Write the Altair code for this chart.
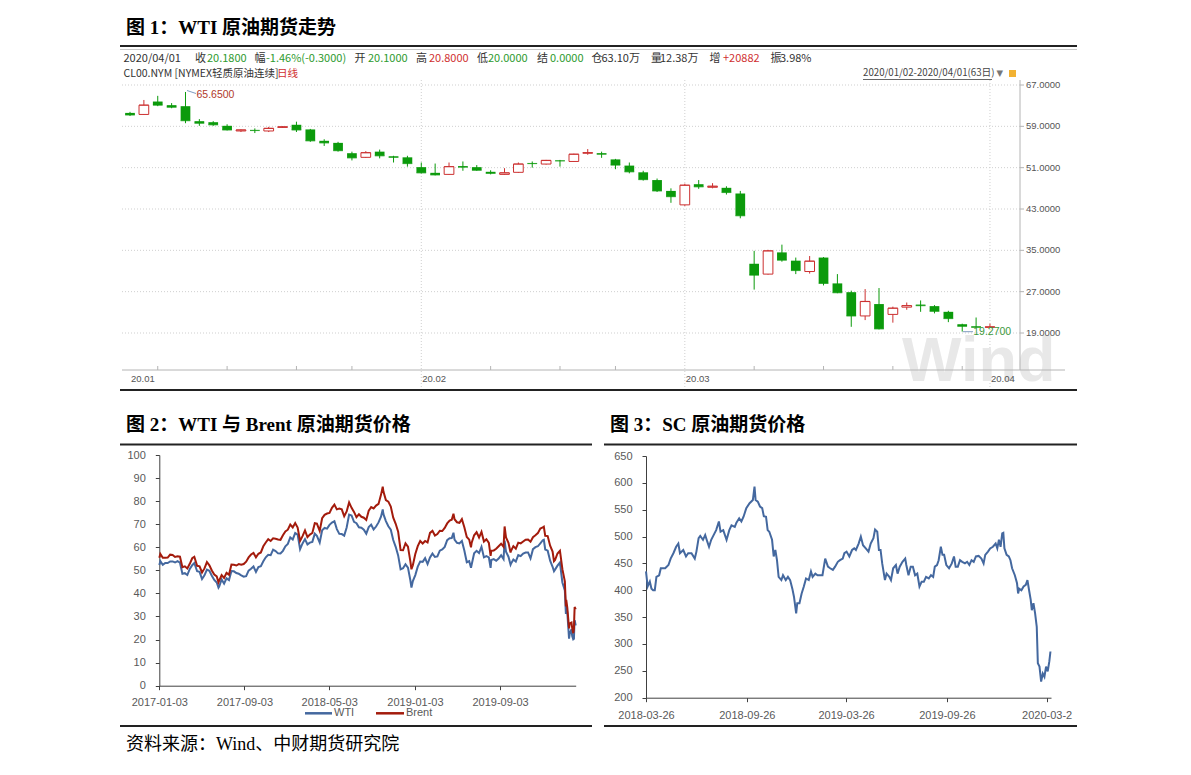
import altair as alt
import pandas as pd

OFF = 8
W, H = 1175, 759


def P(v):
    return v - OFF


SANS = "Liberation Sans"
WFONT = "Noto Sans CJK SC"
TFONT = "Liberation Serif, Noto Sans CJK SC"

GREEN = "#0B9A0B"
RED = "#CC3030"
DARK = "#333333"
GTXT = "#2E9A2E"
RTXT = "#D03030"
GRID = "#CFCFCF"
AXL = "#B4B4B4"
BLUE = "#44689F"
BRENT = "#A31B0C"
AXIS_TXT = "#595959"
AXIS_LN = "#404040"

# ---------------- Figure 1: WTI daily candles (CL00.NYM) ----------------
k_dates = [
    "2020-01-02", "2020-01-03", "2020-01-06", "2020-01-07", "2020-01-08", "2020-01-09", "2020-01-10",
    "2020-01-13", "2020-01-14", "2020-01-15", "2020-01-16", "2020-01-17", "2020-01-21", "2020-01-22",
    "2020-01-23", "2020-01-24", "2020-01-27", "2020-01-28", "2020-01-29", "2020-01-30", "2020-01-31",
    "2020-02-03", "2020-02-04", "2020-02-05", "2020-02-06", "2020-02-07", "2020-02-10", "2020-02-11",
    "2020-02-12", "2020-02-13", "2020-02-14", "2020-02-18", "2020-02-19", "2020-02-20", "2020-02-21",
    "2020-02-24", "2020-02-25", "2020-02-26", "2020-02-27", "2020-02-28",
    "2020-03-02", "2020-03-03", "2020-03-04", "2020-03-05", "2020-03-06", "2020-03-09", "2020-03-10",
    "2020-03-11", "2020-03-12", "2020-03-13", "2020-03-16", "2020-03-17", "2020-03-18", "2020-03-19",
    "2020-03-20", "2020-03-23", "2020-03-24", "2020-03-25", "2020-03-26", "2020-03-27", "2020-03-30",
    "2020-03-31", "2020-04-01",
]
k_open = [61.6, 61.3, 63.8, 63.1, 62.9, 60.0, 59.8, 59.1, 58.1, 58.3, 58.1, 58.8, 59.3, 58.4, 56.2, 55.8, 53.8, 53.0, 54.1, 53.2, 53.0,
          51.1, 50.0, 49.7, 51.3, 51.1, 50.2, 49.7, 50.1, 51.9, 51.7, 52.4, 52.2, 53.8, 53.8, 52.6, 51.4, 50.1, 48.6, 46.5,
          43.8, 47.8, 47.2, 47.1, 46.0, 32.4, 30.4, 34.6, 33.0, 30.9, 33.6, 28.6, 26.9, 22.3, 24.6, 22.6, 24.0, 24.5, 24.2, 23.1, 20.7, 20.3, 20.10]
k_high = [61.8, 64.1, 64.9, 63.5, 65.65, 60.4, 60.0, 59.4, 58.4, 58.6, 58.9, 59.0, 59.9, 58.5, 56.5, 56.0, 54.1, 54.2, 54.5, 53.3, 53.3,
          52.0, 51.8, 52.0, 52.2, 51.5, 50.5, 50.9, 52.0, 52.2, 52.5, 52.5, 53.7, 54.6, 54.1, 52.7, 52.0, 50.4, 48.9, 47.0,
          47.9, 48.6, 48.0, 47.4, 46.5, 34.9, 35.1, 36.1, 33.6, 33.9, 33.7, 30.4, 27.2, 27.5, 27.7, 24.1, 24.9, 25.3, 24.4, 23.3, 20.8, 22.0, 20.80]
k_low = [61.0, 61.2, 62.9, 62.5, 59.6, 59.1, 59.1, 58.2, 57.9, 57.7, 57.9, 58.7, 57.9, 56.0, 55.2, 54.1, 52.4, 52.9, 52.8, 52.0, 51.2,
         49.9, 49.5, 49.6, 50.4, 50.4, 49.7, 49.6, 50.0, 51.0, 51.6, 51.2, 52.1, 53.5, 52.9, 50.7, 49.9, 48.5, 46.3, 44.2,
         43.6, 46.9, 47.0, 45.8, 41.2, 27.4, 30.3, 32.8, 30.4, 30.5, 28.2, 26.7, 20.2, 21.5, 19.7, 21.0, 23.5, 23.1, 22.8, 21.1, 19.27, 19.9, 20.00]
k_close = [61.2, 63.1, 63.1, 62.7, 60.1, 59.6, 59.3, 58.3, 58.3, 58.2, 58.6, 58.9, 58.3, 56.2, 55.8, 54.3, 52.9, 53.9, 53.3, 53.0, 51.8,
           50.0, 49.6, 51.2, 51.1, 50.5, 49.9, 50.0, 51.7, 51.8, 52.4, 52.3, 53.6, 53.9, 53.6, 51.5, 50.2, 48.7, 46.5, 45.4,
           47.6, 47.3, 47.4, 46.2, 41.7, 30.2, 34.9, 33.1, 31.1, 32.9, 28.6, 26.8, 22.3, 25.1, 19.8, 23.8, 24.3, 24.3, 23.2, 21.8, 20.3, 20.1, 20.18]
k_yticks = [67, 59, 51, 43, 35, 27, 19]
k_month_first = ["2020-01-02", "2020-02-03", "2020-03-02", "2020-04-01"]
k_month_labels = ["20.01", "20.02", "20.03", "20.04"]
k_grid_days = ["2020-02-03", "2020-03-02", "2020-04-01"]
k_week_ticks = ["2020-01-06", "2020-01-13", "2020-01-21", "2020-01-27", "2020-02-10", "2020-02-18",
                "2020-02-24", "2020-03-09", "2020-03-16", "2020-03-23", "2020-03-30"]
k_max_day, k_max_val = "2020-01-08", 65.65
k_min_day, k_min_val = "2020-03-30", 19.27

# ---------------- Figure 2: WTI & Brent ----------------
wb_dates = [
    # 2017
    "2017-01-03", "2017-01-06", "2017-01-13", "2017-01-20", "2017-01-27",
    "2017-02-03", "2017-02-10", "2017-02-17", "2017-02-24",
    "2017-03-03", "2017-03-10", "2017-03-17", "2017-03-24", "2017-03-31",
    "2017-04-07", "2017-04-13", "2017-04-21", "2017-04-28",
    "2017-05-05", "2017-05-12", "2017-05-19", "2017-05-26",
    "2017-06-02", "2017-06-09", "2017-06-16", "2017-06-21", "2017-06-23", "2017-06-30",
    "2017-07-07", "2017-07-14", "2017-07-21", "2017-07-28",
    "2017-08-04", "2017-08-11", "2017-08-18", "2017-08-25",
    "2017-09-01", "2017-09-08", "2017-09-15", "2017-09-22", "2017-09-29",
    "2017-10-06", "2017-10-13", "2017-10-20", "2017-10-27",
    "2017-11-03", "2017-11-10", "2017-11-17", "2017-11-24",
    "2017-12-01", "2017-12-08", "2017-12-15", "2017-12-22", "2017-12-29",
    # 2018
    "2018-01-05", "2018-01-12", "2018-01-19", "2018-01-26",
    "2018-02-02", "2018-02-09", "2018-02-16", "2018-02-23",
    "2018-03-02", "2018-03-09", "2018-03-16", "2018-03-23", "2018-03-29",
    "2018-04-06", "2018-04-13", "2018-04-20", "2018-04-27",
    "2018-05-04", "2018-05-11", "2018-05-18", "2018-05-25",
    "2018-06-01", "2018-06-08", "2018-06-15", "2018-06-22", "2018-06-29",
    "2018-07-06", "2018-07-13", "2018-07-20", "2018-07-27",
    "2018-08-03", "2018-08-10", "2018-08-17", "2018-08-24", "2018-08-31",
    "2018-09-07", "2018-09-14", "2018-09-21", "2018-09-28",
    "2018-10-03", "2018-10-05", "2018-10-12", "2018-10-19", "2018-10-26",
    "2018-11-02", "2018-11-09", "2018-11-16", "2018-11-23", "2018-11-30",
    "2018-12-07", "2018-12-14", "2018-12-21", "2018-12-24", "2018-12-28",
    # 2019
    "2019-01-04", "2019-01-11", "2019-01-18", "2019-01-25",
    "2019-02-01", "2019-02-08", "2019-02-15", "2019-02-22",
    "2019-03-01", "2019-03-08", "2019-03-15", "2019-03-22", "2019-03-29",
    "2019-04-05", "2019-04-12", "2019-04-18", "2019-04-23", "2019-04-26",
    "2019-05-03", "2019-05-10", "2019-05-17", "2019-05-24", "2019-05-31",
    "2019-06-07", "2019-06-12", "2019-06-14", "2019-06-21", "2019-06-28",
    "2019-07-05", "2019-07-12", "2019-07-19", "2019-07-26",
    "2019-08-02", "2019-08-07", "2019-08-09", "2019-08-16", "2019-08-23", "2019-08-30",
    "2019-09-06", "2019-09-13", "2019-09-16", "2019-09-20", "2019-09-27",
    "2019-10-03", "2019-10-04", "2019-10-11", "2019-10-18", "2019-10-25",
    "2019-11-01", "2019-11-08", "2019-11-15", "2019-11-22", "2019-11-29",
    "2019-12-06", "2019-12-13", "2019-12-20", "2019-12-27",
    # 2020
    "2020-01-03", "2020-01-06", "2020-01-10", "2020-01-17", "2020-01-24", "2020-01-31",
    "2020-02-04", "2020-02-07", "2020-02-14", "2020-02-21", "2020-02-28",
    "2020-03-06", "2020-03-09", "2020-03-10", "2020-03-13", "2020-03-18", "2020-03-20",
    "2020-03-25", "2020-03-27", "2020-03-30",
    "2020-04-01", "2020-04-02", "2020-04-03", "2020-04-06",
]
wti = [
    52.33, 53.99, 52.37, 53.22, 53.17,
    53.83, 53.86, 53.40, 53.99,
    53.33, 48.49, 48.78, 47.97, 50.60,
    52.24, 53.18, 49.62, 49.33,
    46.22, 47.84, 50.33, 49.80,
    47.66, 45.83, 44.74, 42.53, 43.01, 46.04,
    44.23, 46.54, 45.77, 49.71,
    49.58, 48.82, 48.51, 47.87,
    47.29, 47.48, 49.89, 50.66, 51.67,
    49.29, 51.45, 51.84, 53.90,
    55.64, 56.74, 56.55, 58.95,
    58.36, 57.36, 57.30, 58.47, 60.42,
    61.44, 64.30, 63.37, 66.14,
    65.45, 59.20, 61.68, 63.55,
    61.25, 62.04, 62.34, 65.88, 64.94,
    62.06, 67.39, 68.38, 68.10,
    69.72, 70.70, 71.28, 67.88,
    65.81, 65.74, 65.06, 68.58, 74.15,
    73.80, 71.01, 70.46, 68.69,
    68.49, 67.63, 65.91, 68.72, 69.80,
    67.75, 68.99, 70.78, 73.25,
    76.41, 74.34, 71.34, 69.12, 67.59,
    63.14, 60.19, 56.46, 50.42, 50.93,
    52.61, 51.20, 45.59, 42.53, 45.33,
    47.96, 51.59, 53.80, 53.69,
    55.26, 52.72, 55.59, 57.26,
    55.80, 56.07, 58.52, 59.04, 60.14,
    63.08, 63.89, 64.00, 66.30, 63.30,
    61.94, 61.66, 62.76, 58.63, 53.50,
    53.99, 51.14, 52.51, 57.43, 58.47,
    57.51, 60.21, 55.63, 56.20,
    55.66, 51.09, 54.50, 54.87, 54.17, 55.10,
    56.52, 54.85, 62.90, 58.09, 55.91,
    52.45, 52.81, 54.70, 53.78, 56.66,
    56.20, 57.24, 57.72, 57.77, 55.17,
    59.20, 60.07, 60.44, 61.72,
    63.05, 63.27, 59.04, 58.54, 54.19, 51.56,
    49.61, 50.32, 52.05, 53.38, 44.76,
    41.28, 31.13, 34.36, 31.73, 20.37, 22.43,
    24.49, 21.51, 20.09,
    20.31, 25.32, 28.34, 26.08,
]
brent = [
    55.47, 57.10, 55.45, 55.49, 55.52,
    56.81, 56.70, 55.81, 56.08,
    55.90, 51.37, 51.76, 50.80, 52.83,
    55.24, 55.89, 51.96, 51.73,
    49.10, 50.84, 53.61, 52.15,
    49.95, 48.15, 47.37, 44.82, 45.54, 47.92,
    46.71, 48.91, 48.06, 52.52,
    52.42, 52.10, 52.72, 52.41,
    52.75, 53.78, 55.62, 56.86, 57.54,
    55.62, 57.17, 57.75, 60.44,
    62.07, 63.52, 62.72, 63.86,
    63.73, 63.40, 63.23, 65.25, 66.87,
    67.62, 69.87, 68.61, 70.52,
    68.58, 62.79, 64.84, 67.31,
    64.37, 65.49, 66.21, 70.45, 70.27,
    67.11, 72.58, 74.06, 74.64,
    74.87, 77.12, 78.51, 76.44,
    76.79, 76.46, 73.44, 75.55, 79.44,
    77.11, 75.33, 73.07, 74.29,
    73.21, 72.81, 71.83, 75.82, 77.42,
    76.83, 78.09, 78.80, 82.72,
    86.29, 84.16, 80.43, 79.78, 77.62,
    72.83, 70.18, 66.76, 58.80, 58.71,
    61.67, 60.28, 53.82, 50.47, 52.20,
    57.06, 60.48, 62.70, 61.64,
    62.75, 62.10, 66.25, 67.12,
    65.07, 65.74, 67.16, 67.03, 68.39,
    70.34, 71.55, 71.97, 74.51, 72.15,
    70.85, 70.62, 72.21, 68.69, 64.49,
    63.29, 59.97, 62.01, 65.20, 66.55,
    64.23, 66.72, 62.47, 63.46,
    61.89, 56.23, 58.53, 58.64, 59.34, 60.43,
    61.54, 60.22, 69.02, 64.28, 61.91,
    57.71, 58.37, 60.51, 59.42, 62.02,
    61.69, 62.51, 63.30, 63.39, 62.43,
    64.39, 65.22, 66.14, 68.16,
    68.60, 68.91, 64.98, 64.85, 60.69, 58.16,
    53.96, 54.47, 57.32, 58.50, 50.52,
    45.27, 34.36, 37.22, 33.85, 24.88, 26.98,
    27.39, 24.93, 22.76,
    24.74, 29.94, 34.11, 33.05,
]
wb_yticks = [0, 10, 20, 30, 40, 50, 60, 70, 80, 90, 100]

# ---------------- Figure 3: SC crude ----------------
sc_dates = [
    "2018-03-26", "2018-03-29", "2018-04-02", "2018-04-05", "2018-04-08", "2018-04-11", "2018-04-14",
    "2018-04-19", "2018-04-22", "2018-04-30", "2018-05-06", "2018-05-10", "2018-05-15", "2018-05-20",
    "2018-05-24", "2018-05-27", "2018-06-02", "2018-06-07", "2018-06-11", "2018-06-17", "2018-06-23",
    "2018-06-26", "2018-06-30", "2018-07-03", "2018-07-08", "2018-07-12", "2018-07-16", "2018-07-19",
    "2018-07-23", "2018-07-29", "2018-08-01", "2018-08-06", "2018-08-09", "2018-08-14", "2018-08-20",
    "2018-08-25", "2018-08-29", "2018-09-04", "2018-09-07", "2018-09-12", "2018-09-16", "2018-09-20",
    "2018-09-25", "2018-10-01", "2018-10-07", "2018-10-10", "2018-10-12", "2018-10-16", "2018-10-20",
    "2018-10-24", "2018-10-27", "2018-10-31", "2018-11-03", "2018-11-06", "2018-11-11", "2018-11-14",
    "2018-11-17", "2018-11-20", "2018-11-23", "2018-11-28", "2018-12-01", "2018-12-06", "2018-12-10",
    "2018-12-14", "2018-12-18", "2018-12-21", "2018-12-25", "2018-12-27", "2018-12-31",
    "2019-01-04", "2019-01-08", "2019-01-12", "2019-01-17", "2019-01-21", "2019-01-24", "2019-01-29",
    "2019-02-02", "2019-02-07", "2019-02-11", "2019-02-16", "2019-02-21", "2019-02-25", "2019-03-02",
    "2019-03-06", "2019-03-11", "2019-03-15", "2019-03-20", "2019-03-23", "2019-03-27", "2019-04-01",
    "2019-04-06", "2019-04-10", "2019-04-13", "2019-04-18", "2019-04-22", "2019-04-26", "2019-05-01",
    "2019-05-06", "2019-05-10", "2019-05-15", "2019-05-18", "2019-05-22", "2019-05-25", "2019-05-28",
    "2019-05-31", "2019-06-05", "2019-06-08", "2019-06-13", "2019-06-16", "2019-06-20", "2019-06-25",
    "2019-06-28", "2019-07-02", "2019-07-07", "2019-07-12", "2019-07-14", "2019-07-18", "2019-07-22",
    "2019-07-26", "2019-07-30", "2019-08-03", "2019-08-07", "2019-08-11", "2019-08-15", "2019-08-19",
    "2019-08-24", "2019-08-28", "2019-09-01", "2019-09-04", "2019-09-08", "2019-09-11", "2019-09-15",
    "2019-09-18", "2019-09-21", "2019-09-25", "2019-09-30", "2019-10-05", "2019-10-09", "2019-10-12",
    "2019-10-16", "2019-10-20", "2019-10-24", "2019-10-29", "2019-11-02", "2019-11-06", "2019-11-10",
    "2019-11-14", "2019-11-18", "2019-11-23", "2019-11-28", "2019-12-02", "2019-12-05", "2019-12-10",
    "2019-12-14", "2019-12-19", "2019-12-24", "2019-12-27", "2019-12-30",
    "2020-01-02", "2020-01-05", "2020-01-07", "2020-01-09", "2020-01-13", "2020-01-17", "2020-01-20",
    "2020-01-23", "2020-01-28", "2020-02-01", "2020-02-03", "2020-02-05", "2020-02-09", "2020-02-13",
    "2020-02-17", "2020-02-20", "2020-02-23", "2020-02-26", "2020-02-28", "2020-03-02", "2020-03-05",
    "2020-03-08", "2020-03-10", "2020-03-13", "2020-03-16", "2020-03-19", "2020-03-22", "2020-03-25",
    "2020-03-28", "2020-03-31", "2020-04-02",
]
sc_vals = [
    435, 407, 416, 403, 400, 400, 425,
    428, 441, 441, 447, 459, 469, 481,
    487, 469, 475, 463, 469, 469, 459,
    472, 497, 501, 494, 503, 490, 481,
    494, 506, 512, 528, 509, 512, 494,
    512, 521, 518, 526, 534, 528, 537,
    553, 562, 568, 593, 568, 565, 556,
    553, 538, 537, 512, 509, 494, 463,
    475, 456, 425, 419, 428, 419, 425,
    419, 403, 388, 357, 376, 376,
    394, 407, 422, 419, 435, 425, 431,
    428, 428, 428, 459, 444, 441, 438,
    444, 453, 456, 459, 469, 472, 463,
    475, 478, 475, 487, 500, 484, 478,
    472, 487, 497, 513, 509, 475, 475,
    450, 419, 431, 425, 419, 441, 447,
    431, 444, 453, 459, 447, 428, 444,
    444, 428, 431, 407, 416, 416, 425,
    422, 428, 425, 444, 447, 456, 481,
    466, 466, 447, 441, 450, 463, 444,
    444, 456, 453, 450, 453, 447, 456,
    453, 463, 464, 459, 450, 466, 472,
    478, 481, 487, 478, 494,
    481, 506, 507, 478, 466, 463, 456,
    441, 428, 413, 394, 403, 400, 407,
    410, 419, 400, 382, 363, 376, 357,
    332, 264, 258, 230, 245, 239, 258,
    249, 268, 286,
]
sc_yticks = [200, 250, 300, 350, 400, 450, 500, 550, 600, 650]

ONE = pd.DataFrame({"k": [0]})


def DT(y, m, d):
    return alt.DateTime(year=y, month=m, date=d, utc=True)


def text_at(s, x, y, size, color="#000000", font=WFONT, weight="normal", align="left"):
    return alt.Chart(ONE).mark_text(
        text=s, fontSize=size, color=color, font=font, fontWeight=weight,
        align=align, baseline="middle",
    ).encode(x=alt.value(P(x)), y=alt.value(P(y)))


def hline(x1, x2, y, color, width=1.0, dash=None):
    kw = dict(color=color, strokeWidth=width)
    if dash:
        kw["strokeDash"] = dash
    return alt.Chart(ONE).mark_rule(**kw).encode(
        x=alt.value(P(x1)), x2=alt.value(P(x2)), y=alt.value(P(y)))


def vline(x, y1, y2, color, width=1.0, dash=None):
    kw = dict(color=color, strokeWidth=width)
    if dash:
        kw["strokeDash"] = dash
    return alt.Chart(ONE).mark_rule(**kw).encode(
        x=alt.value(P(x)), y=alt.value(P(y1)), y2=alt.value(P(y2)))


# ---------------- page furniture ----------------
deco = [
    text_at("图 1：WTI 原油期货走势", 126, 27.5, 19, "#000000", TFONT, "bold"),
    hline(120, 1077, 46, "#222222", 2),
    hline(120, 1077, 49.5, "#C8C8C8", 1),
    hline(120, 1077, 390, "#222222", 2),
    text_at("图 2：WTI 与 Brent 原油期货价格", 126, 425, 19, "#000000", TFONT, "bold"),
    text_at("图 3：SC 原油期货价格", 610, 425, 19, "#000000", TFONT, "bold"),
    hline(120, 592, 444.5, "#222222", 2),
    hline(604, 1077, 444.5, "#222222", 2),
    hline(120, 592, 726, "#222222", 2),
    hline(604, 1077, 726, "#222222", 2),
    text_at("资料来源：Wind、中财期货研究院", 126, 745, 18, "#000000", TFONT),
]

# ---------------- Wind candle panel ----------------
kdf = pd.DataFrame({"date": k_dates, "open": k_open, "high": k_high, "low": k_low, "close": k_close})
k_up = kdf[kdf["close"] >= kdf["open"]]
k_dn = kdf[kdf["close"] < kdf["open"]]

kxs = alt.Scale(type="band", domain=k_dates, range=[P(123.07), P(996.9)], paddingInner=0.3, paddingOuter=0.15)
kys = alt.Scale(domain=[19, 67], range=[P(333), P(85)], nice=False, zero=False)


def kx():
    return alt.X("date:N", scale=kxs, axis=None)


def ky(f):
    return alt.Y(f"{f}:Q", scale=kys, axis=None)


ytick_df = pd.DataFrame({"v": k_yticks})
month_df = pd.DataFrame({"date": k_month_first, "lab": k_month_labels})
grid_v_df = pd.DataFrame({"date": k_grid_days})
week_df = pd.DataFrame({"date": k_week_ticks})
max_df = pd.DataFrame({"date": [k_max_day], "v": [k_max_val]})
min_df = pd.DataFrame({"date": [k_min_day], "v": [k_min_val]})

wind_layers = [
    alt.Chart(ytick_df).mark_rule(color=GRID, strokeDash=[1, 2], strokeWidth=1).encode(
        y=ky("v"), x=alt.value(P(122)), x2=alt.value(P(1020))),
    alt.Chart(grid_v_df).mark_rule(color=GRID, strokeDash=[1, 2], strokeWidth=1).encode(
        x=kx(), y=alt.value(P(80)), y2=alt.value(P(388))),
    alt.Chart(ONE).mark_text(text="Wind", font=SANS, fontWeight="bold", fontSize=63, color="#E8E8E8",
                             align="left", baseline="alphabetic").encode(
        x=alt.value(P(902)), y=alt.value(P(381))),
    # wicks
    alt.Chart(k_dn).mark_rule(color=GREEN, strokeWidth=1).encode(x=kx(), y=ky("low"), y2="high:Q"),
    alt.Chart(k_up).mark_rule(color=RED, strokeWidth=1).encode(x=kx(), y=ky("low"), y2="high:Q"),
    # bodies
    alt.Chart(k_dn).mark_bar(color=GREEN).encode(x=kx(), y=ky("open"), y2="close:Q"),
    alt.Chart(k_up).mark_bar(fill="#FFFFFF", stroke=RED, strokeWidth=1).encode(x=kx(), y=ky("open"), y2="close:Q"),
    alt.Chart(k_dn).mark_tick(color=GREEN, size=9.7, thickness=1.2).encode(x=kx(), y=ky("close")),
    alt.Chart(k_up).mark_tick(color=RED, size=9.7, thickness=1.2).encode(x=kx(), y=ky("close")),
    # right value axis
    alt.Chart(ytick_df).mark_rule(color=AXL, strokeWidth=1).encode(
        y=ky("v"), x=alt.value(P(1020)), x2=alt.value(P(1024))),
    alt.Chart(ytick_df).mark_text(align="left", baseline="middle", font=SANS, fontSize=9.5, color="#555555").encode(
        y=ky("v"), x=alt.value(P(1026)), text=alt.Text("v:Q", format=".4f")),
    # bottom date axis
    alt.Chart(week_df).mark_rule(color=AXL, strokeWidth=1).encode(
        x=kx(), y=alt.value(P(366)), y2=alt.value(P(370))),
    alt.Chart(month_df).mark_text(align="left", baseline="middle", dx=1, font=SANS, fontSize=9.5,
                                  color="#555555").encode(
        x=kx(), y=alt.value(P(379)), text="lab:N"),
    # extremes
    alt.Chart(max_df).mark_text(align="left", baseline="middle", dx=11, dy=3, font=SANS, fontSize=10.5,
                                color="#B0392B").encode(
        x=kx(), y=ky("v"), text=alt.Text("v:Q", format=".4f")),
    alt.Chart(min_df).mark_text(align="left", baseline="middle", dx=11, dy=0, font=SANS, fontSize=10.5,
                                color="#3C9A3C").encode(
        x=kx(), y=ky("v"), text=alt.Text("v:Q", format=".4f")),
]
wind = alt.layer(*wind_layers)

wind_deco = [
    vline(1020, 80, 370, AXL, 1),
    hline(122, 1065, 370, AXL, 1),
    alt.Chart(ONE).mark_rule(color="#7E9CC0", strokeWidth=1).encode(
        x=alt.value(P(187)), x2=alt.value(P(196)), y=alt.value(P(90.5)), y2=alt.value(P(93.5))),
    hline(963, 973, 331.7, "#7E9CC0", 1),
    # header row 1
    text_at("2020/04/01", 123.5, 58.5, 11, DARK),
    text_at("收", 195, 58.5, 11, DARK), text_at("20.1800", 207, 58.5, 11, GTXT),
    text_at("幅", 254.5, 58.5, 11, DARK), text_at("-1.46%(-0.3000)", 266, 58.5, 11, GTXT),
    text_at("开", 354.5, 58.5, 11, DARK), text_at("20.1000", 368, 58.5, 11, GTXT),
    text_at("高", 416, 58.5, 11, DARK), text_at("20.8000", 429, 58.5, 11, RTXT),
    text_at("低", 477, 58.5, 11, DARK), text_at("20.0000", 488, 58.5, 11, GTXT),
    text_at("结", 537, 58.5, 11, DARK), text_at("0.0000", 550, 58.5, 11, GTXT),
    text_at("仓", 591.5, 58.5, 11, DARK), text_at("63.10万", 601.5, 58.5, 11, DARK),
    text_at("量", 651, 58.5, 11, DARK), text_at("12.38万", 660, 58.5, 11, DARK),
    text_at("增", 709.5, 58.5, 11, DARK), text_at("+20882", 723, 58.5, 11, RTXT),
    text_at("振", 770.5, 58.5, 11, DARK), text_at("3.98%", 780, 58.5, 11, DARK),
    # header row 2
    text_at("CL00.NYM  [NYMEX轻质原油连续]", 123.5, 73.5, 10.5, DARK),
    text_at("日线", 277, 73.5, 10.5, RTXT),
    text_at("2020/01/02-2020/04/01(63日)", 863, 73, 9.7, "#444444"),
    hline(863, 992, 79.5, "#666666", 1),
    text_at("▼", 996.5, 73, 8.5, "#777777", "DejaVu Sans"),
    alt.Chart(ONE).mark_rect(color="#F2B233").encode(
        x=alt.value(P(1009)), x2=alt.value(P(1016)), y=alt.value(P(70)), y2=alt.value(P(77))),
]

# ---------------- Figure 2: WTI & Brent lines ----------------
wb_x = alt.Scale(type="utc", domain=[DT(2017, 1, 3), DT(2020, 4, 6)], range=[P(159.3), P(575.7)])
wb_y = alt.Scale(domain=[0, 100], range=[P(685.7), P(455)], nice=False, zero=False)

ax_common = dict(title=None, grid=False, labelFont=SANS, labelFontSize=11, labelColor=AXIS_TXT,
                 domainColor=AXIS_LN, tickColor=AXIS_LN, tickSize=4, domainWidth=1, tickWidth=1,
                 labelOverlap=False, labelFlush=False)


def wb_xaxis():
    return alt.Axis(orient="bottom", offset=P(685.7) - H, format="%Y-%m-%d", labelPadding=7,
                    values=[DT(2017, 1, 3), DT(2017, 9, 3), DT(2018, 5, 3), DT(2019, 1, 3), DT(2019, 9, 3)],
                    **ax_common)


def wb_yaxis():
    return alt.Axis(orient="left", offset=-P(159.3), values=wb_yticks, labelPadding=10, format="d", **ax_common)


wti_df = pd.DataFrame({"date": wb_dates, "v": wti})
brent_df = pd.DataFrame({"date": wb_dates, "v": brent})

wb = alt.layer(
    alt.Chart(wti_df).mark_line(color=BLUE, strokeWidth=2).encode(
        x=alt.X("date:T", scale=wb_x, axis=wb_xaxis()), y=alt.Y("v:Q", scale=wb_y, axis=wb_yaxis())),
    alt.Chart(brent_df).mark_line(color=BRENT, strokeWidth=2).encode(
        x=alt.X("date:T", scale=wb_x, axis=wb_xaxis()), y=alt.Y("v:Q", scale=wb_y, axis=wb_yaxis())),
)

wb_legend = [
    hline(305, 332, 713.3, BLUE, 2.5),
    text_at("WTI", 334, 713.3, 11, AXIS_TXT, SANS),
    hline(376, 404, 713.3, BRENT, 2.5),
    text_at("Brent", 406, 713.3, 11, AXIS_TXT, SANS),
]

# ---------------- Figure 3: SC line ----------------
sc_x = alt.Scale(type="utc", domain=[DT(2018, 3, 26), DT(2020, 4, 3)], range=[P(646), P(1051)])
sc_y = alt.Scale(domain=[200, 650], range=[P(697.7), P(456)], nice=False, zero=False)
sc_xaxis = alt.Axis(orient="bottom", offset=P(697.7) - H, labelPadding=7.5,
                    values=[DT(2018, 3, 26), DT(2018, 9, 26), DT(2019, 3, 26), DT(2019, 9, 26), DT(2020, 3, 26)],
                    labelExpr="utcFormat(datum.value, '%Y-%m-%d') == '2020-03-26' ? '2020-03-2' : utcFormat(datum.value, '%Y-%m-%d')",
                    **ax_common)
sc_yaxis = alt.Axis(orient="left", offset=-P(646), values=sc_yticks, labelPadding=10, format="d", **ax_common)

sc_df = pd.DataFrame({"date": sc_dates, "v": sc_vals})
sc = alt.Chart(sc_df).mark_line(color=BLUE, strokeWidth=2).encode(
    x=alt.X("date:T", scale=sc_x, axis=sc_xaxis), y=alt.Y("v:Q", scale=sc_y, axis=sc_yaxis))

chart = alt.layer(
    *deco, wind, *wind_deco, wb, *wb_legend, sc
).resolve_scale(
    x="independent", y="independent"
).resolve_axis(
    x="independent", y="independent"
).properties(
    width=W, height=H, padding=0, background="white",
    autosize=alt.AutoSizeParams(type="none"),
).configure_view(strokeWidth=0)

chart.save("out.html", embed_options={"renderer": "svg", "actions": False})
